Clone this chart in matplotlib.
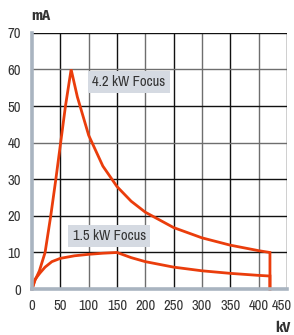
import matplotlib
matplotlib.use("Agg")
import matplotlib.pyplot as plt
from matplotlib.transforms import ScaledTranslation

# data
kv_42_up = [0, 5, 13, 23, 33, 42, 50.5, 59, 69]
ma_42_up = [0, 2.3, 5, 10, 20, 30, 40, 50, 60]
kv_42_down = [69, 80, 100, 125, 150, 175, 200, 250, 300, 350, 400, 420]
ma_42_down = [60, 52.5, 42, 33.6, 28, 24, 21, 16.8, 14, 12, 10.5, 10]

kv_15_up = [0, 5, 14, 23, 35, 50, 75, 100, 125, 150]
ma_15_up = [0, 2.6, 4.4, 6.0, 7.5, 8.4, 9.1, 9.5, 9.8, 10]
kv_15_down = [150, 175, 200, 250, 300, 350, 400, 420]
ma_15_down = [10, 8.6, 7.5, 6.0, 5.0, 4.3, 3.75, 3.57]

xticks = [0, 50, 100, 150, 200, 250, 300, 350, 400, 450]
yticks = [0, 10, 20, 30, 40, 50, 60, 70]

plt.rcParams['font.family'] = ["Archivo Narrow", "DejaVu Sans"]

red = "#ea3d0c"
txt = "#333333"
fig = plt.figure(figsize=(2.94, 3.35), dpi=100)
ax = fig.add_axes([0.109, 0.137, 0.867, 0.765])
ax.set_xlim(0, 450)
ax.set_ylim(0, 70)

# grid, alternating dark / grey like the original
for i, x in enumerate(xticks[1:]):
    c = "#111111" if i % 2 == 0 else "#6e6e6e"
    ax.axvline(x, color=c, lw=1.0, zorder=1)
for y in yticks[1:]:
    c = "#6e6e6e" if y in (40, 60) else "#111111"
    ax.axhline(y, color=c, lw=1.0, zorder=1)

# 4.2 kW focus
ax.plot(kv_42_up + kv_42_down[1:] + [420], ma_42_up + ma_42_down[1:] + [0],
        color=red, lw=2, zorder=3, solid_joinstyle='miter', clip_on=False)
# 1.5 kW focus
ax.plot(kv_15_up + kv_15_down[1:] + [420], ma_15_up + ma_15_down[1:] + [0],
        color=red, lw=2, zorder=3, solid_joinstyle='miter', clip_on=False)

box = dict(boxstyle="square,pad=0.3", fc="#d5dae2", ec="none")
ax.text(106, 56.6, "4.2 kW Focus", fontsize=10.5, color=txt,
        va="center", ha="left", bbox=box, zorder=4)
ax.text(72, 14.5, "1.5 kW Focus", fontsize=10.5, color=txt,
        va="center", ha="left", bbox=box, zorder=4)

for s in ["top", "right"]:
    ax.spines[s].set_visible(False)
for s in ["left", "bottom"]:
    ax.spines[s].set_color("#a9b4c0")
    ax.spines[s].set_linewidth(2.6)
    ax.spines[s].set_zorder(5)

ax.set_xticks(xticks)
ax.set_yticks(yticks)
ax.tick_params(length=0, labelsize=10.5, labelcolor=txt)
ax.tick_params(axis="x", pad=7)
ax.tick_params(axis="y", pad=8)

# nudge the last x label so it stays inside the picture
last = ax.get_xticklabels()[-1]
last.set_transform(last.get_transform() + ScaledTranslation(-5 / 100, 0, fig.dpi_scale_trans))

fig.text(0.105, 0.952, "mA", fontsize=10.5, fontweight="bold", color=txt,
         ha="left", va="center", family=["Fira Sans Condensed", "DejaVu Sans"])
fig.text(0.962, 0.022, "kV", fontsize=10.5, fontweight="bold", color=txt,
         ha="center", va="center", family=["Fira Sans Condensed", "DejaVu Sans"])

fig.savefig("out.png", dpi=100)
